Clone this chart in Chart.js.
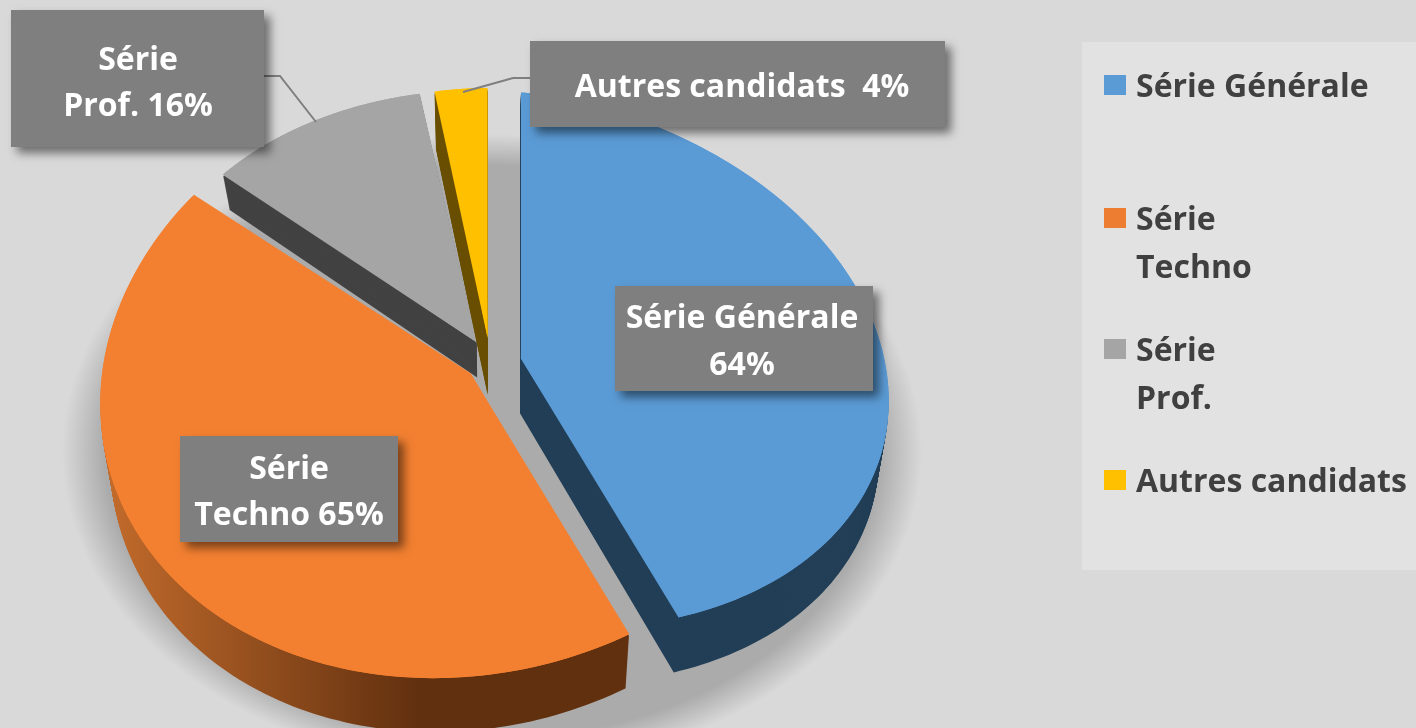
<!DOCTYPE html>
<html>
<head>
<meta charset="utf-8">
<script src="https://cdn.jsdelivr.net/npm/chart.js@4"></script>
<style>
html,body{margin:0;padding:0;background:#d9d9d9;overflow:hidden}
canvas{display:block}
</style>
</head>
<body>
<canvas id="c" width="1416" height="728"></canvas>
<script>
const categories = ['Série Générale', ['Série', 'Techno'], ['Série', 'Prof.'], 'Autres candidats'];
const values = [64, 65, 16, 4];
const dataLabels = [['Série Générale', '64%'], ['Série', 'Techno 65%'], ['Série', 'Prof. 16%'], ['Autres candidats  4%']];
const sliceColors = ['#5B9BD5', '#F38031', '#A5A5A5', '#FFC000'];
const legendColors = ['#5B9BD5', '#ED7D31', '#A5A5A5', '#FFC000'];
const sideColors = ['#223F57', null, '#424242', '#6A5000'];
const explode = [133, 100, 120, 140];

/* oblique projection of each slice (3-D look) */
const projX = [0.953, 0.969, 0.90, 0.80];
const projY = [0.69, 0.793, 0.667, 0.631];
const projShear = [0.11, -0.08, 0, 0];
const depth = [55, 54, 35, 57];
const drawOrder = [2, 3, 1, 0];

/* label boxes, legend rows: layout only */
const boxes = [
  {x:615,y:286,w:258,h:105,tx:742,lines:[316,363]},
  {x:180,y:436,w:218,h:106,tx:289,lines:[467,513]},
  {x:11,y:10,w:253,h:137,tx:138,lines:[58,104]},
  {x:530,y:41,w:415,h:86,tx:742,lines:[85]}
];
const leaders = [null,null,[[264,76],[280,76],[316,122]],[[530,78],[513,78],[463,92]]];
const legendRows = [85, 218, 349, 480];
const FONT = '700 32px "Open Sans"';

function pt(arc, i, x, y, t) {
  let X = arc.x + projX[i] * x;
  let Y = arc.y + projShear[i] * x + projY[i] * y;
  if (t) { X = arc.x + (X - arc.x) * (1 - 0.025 * t); Y += depth[i] * t; }
  return [X, Y];
}
function wedge(ctx, arc, i, t) {
  // same geometry Chart.js uses for an offset arc
  const off = (arc.options.offset || 0) / 4;
  const s = arc.startAngle, e = arc.endAngle, m = (s + e) / 2;
  const R = arc.outerRadius + off * (1 - Math.sin(Math.min(Math.PI, e - s)));
  const ox = off * Math.cos(m), oy = off * Math.sin(m);
  ctx.beginPath();
  let p = pt(arc, i, ox, oy, t); ctx.moveTo(p[0], p[1]);
  const n = 120;
  for (let k = 0; k <= n; k++) {
    const a = s + (e - s) * k / n;
    p = pt(arc, i, ox + R * Math.cos(a), oy + R * Math.sin(a), t);
    ctx.lineTo(p[0], p[1]);
  }
  ctx.closePath();
}

const pie3d = {
  id: 'pie3d',
  beforeDraw(chart) {
    const ctx = chart.ctx;
    ctx.save();
    ctx.fillStyle = '#d9d9d9';
    ctx.fillRect(0, 0, 1416, 728);
    ctx.fillStyle = '#e2e2e2';
    ctx.fillRect(1082, 42, 334, 528);
    ctx.restore();
  },
  beforeDatasetDraw(chart, args) {
    const ctx = chart.ctx;
    const arcs = chart.getDatasetMeta(args.index).data;
    const cx = arcs[0].x, cy = arcs[0].y;
    ctx.save();
    // soft cast shadow beneath the pie
    ctx.translate(cx + 2, cy + 92);
    ctx.scale(1, 318 / 430);
    const g = ctx.createRadialGradient(0, 0, 0, 0, 0, 430);
    g.addColorStop(0, '#ababab');
    g.addColorStop(0.9, '#ababab');
    g.addColorStop(1, 'rgba(171,171,171,0)');
    ctx.fillStyle = g;
    ctx.beginPath();
    ctx.arc(0, 0, 430, 0, Math.PI * 2);
    ctx.fill();
    ctx.restore();

    const og = ctx.createLinearGradient(100, 0, 420, 0);
    og.addColorStop(0, '#c46c2c');
    og.addColorStop(1, '#61300f');
    for (const i of drawOrder) {
      const arc = arcs[i];
      ctx.save();
      ctx.fillStyle = sideColors[i] || og;
      for (let d = depth[i]; d >= 2; d -= 1) {
        wedge(ctx, arc, i, d / depth[i]);
        ctx.fill();
      }
      ctx.restore();
      ctx.save();
      ctx.transform(projX[i], projShear[i], 0, projY[i], arc.x, arc.y);
      ctx.translate(-arc.x, -arc.y);
      arc.draw(ctx, chart.chartArea);
      ctx.restore();
      ctx.save();
      ctx.fillStyle = arc.options.backgroundColor;
      wedge(ctx, arc, i, 0);
      ctx.fill();
      ctx.restore();
    }
    return false;
  },
  afterDraw(chart) {
    const ctx = chart.ctx;
    // leader lines
    ctx.save();
    ctx.strokeStyle = '#7f7f7f';
    ctx.lineWidth = 2;
    for (const l of leaders) {
      if (!l) continue;
      ctx.beginPath();
      l.forEach((p, k) => k ? ctx.lineTo(p[0], p[1]) : ctx.moveTo(p[0], p[1]));
      ctx.stroke();
    }
    ctx.restore();
    // data labels
    boxes.forEach((b, i) => {
      ctx.save();
      ctx.shadowColor = 'rgba(0,0,0,0.5)';
      ctx.shadowBlur = 9;
      ctx.shadowOffsetX = 6;
      ctx.shadowOffsetY = 6;
      ctx.fillStyle = '#7f7f7f';
      ctx.fillRect(b.x, b.y, b.w, b.h);
      ctx.restore();
      ctx.save();
      ctx.fillStyle = '#ffffff';
      ctx.font = FONT;
      ctx.textAlign = 'center';
      ctx.textBaseline = 'middle';
      dataLabels[i].forEach((t, k) => ctx.fillText(t, b.tx, b.lines[k] + 3));
      ctx.restore();
    });
    // legend
    ctx.save();
    ctx.font = FONT;
    ctx.textBaseline = 'middle';
    ctx.textAlign = 'left';
    categories.forEach((c, i) => {
      const y = legendRows[i];
      ctx.fillStyle = legendColors[i];
      ctx.fillRect(1104, y - 10, 22, 20);
      ctx.fillStyle = '#404040';
      (Array.isArray(c) ? c : [c]).forEach((t, k) => ctx.fillText(t, 1136, y + 3 + k * 47.5));
    });
    ctx.restore();
  }
};

new Chart(document.getElementById('c'), {
  type: 'pie',
  data: {
    labels: categories,
    datasets: [{ data: values, backgroundColor: sliceColors, borderWidth: 0, offset: explode }]
  },
  options: {
    responsive: false,
    animation: false,
    events: [],
    rotation: 0,
    radius: 367,
    layout: { padding: { right: 436, bottom: 8 } },
    plugins: { legend: { display: false }, tooltip: { enabled: false }, title: { display: false } }
  },
  plugins: [pie3d]
});
</script>
</body>
</html>
